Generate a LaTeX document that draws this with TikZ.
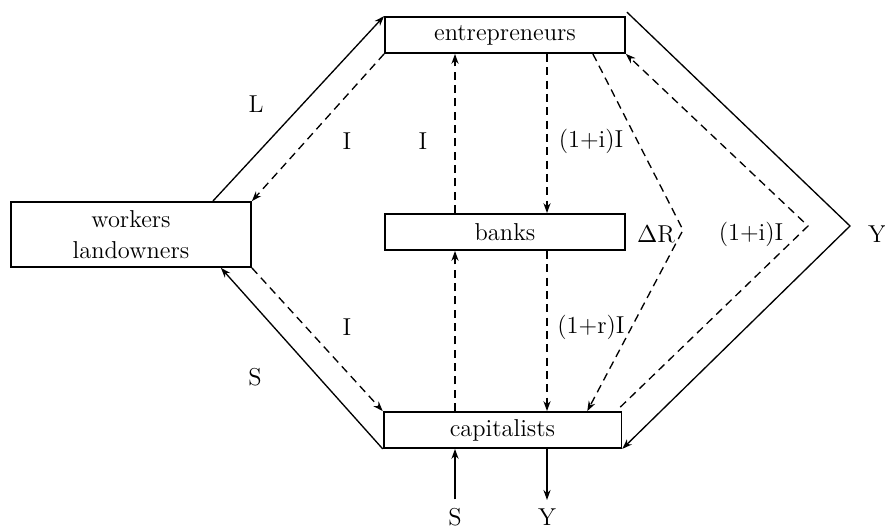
\documentclass[tikz,border=0pt]{standalone}
\usepackage{amsmath}
\usepackage{tikz}
\usetikzlibrary{arrows.meta,positioning,calc}
\newcommand{\flowfont}{\fontsize{11}{14}\selectfont}
\tikzset{
  sector/.style={draw=black,line width=0.8pt,fill=white,
                 minimum width=108pt,minimum height=16.2pt,
                 inner sep=2pt,align=center,font=\flowfont},
  realarr/.style={-{Stealth[length=4.5pt,width=3.2pt]},line width=0.6pt},
  moneyarr/.style={-{Stealth[length=4.5pt,width=3.2pt]},line width=0.6pt,
                   dash pattern=on 3.6pt off 2.4pt},
  flowlabel/.style={font=\flowfont,inner sep=1pt}
}
\begin{document}
\begin{tikzpicture}[x=0.45pt,y=-0.45pt]
  \useasboundingbox (0,0) rectangle (885,527);

  % sectors
  \node[sector] (ent) at (505,35) {entrepreneurs};
  \node[sector,minimum height=29.25pt] (work) at (131,234.5) {workers\\landowners};
  \node[sector] (banks) at (505,232) {banks};
  \node[sector,minimum width=107pt] (cap) at (502.5,430) {capitalists};

  % columns and turning points
  \coordinate (colA) at (455,0);
  \coordinate (colB) at (547,0);
  \coordinate (dRtip) at (683,230);
  \coordinate (iitip) at (808,226);
  \coordinate (ytip) at (850,226);

  % left side
  \draw[realarr] ($(work.north east)+(-39,0)$) -- (ent.north west);
  \draw[moneyarr] (ent.south west) -- (work.north east);
  \draw[realarr] (cap.south west) -- ($(work.south east)+(-31,0)$);
  \draw[moneyarr] (work.south east) -- (cap.north west);

  % middle
  \draw[moneyarr] (banks.north -| colA) -- (ent.south -| colA);
  \draw[moneyarr] (ent.south -| colB) -- (banks.north -| colB);
  \draw[moneyarr] (cap.north -| colA) -- (banks.south -| colA);
  \draw[moneyarr] (banks.south -| colB) -- (cap.north -| colB);

  % right side
  \draw[moneyarr] ($(ent.south east)+(-33,0)$) -- (dRtip) -- ($(cap.north east)+(-35,0)$);
  \draw[moneyarr] ($(cap.north east)+(-2,-4)$) -- (iitip) -- (ent.south east);
  \draw[realarr] ($(ent.north east)+(1,-4)$) -- (ytip) -- (cap.south east);

  % bottom
  \node[flowlabel] (sIn) at (455,517) {S};
  \node[flowlabel] (yOut) at (547,517) {Y};
  \draw[realarr] ($(sIn.north)+(0,-6)$) -- (cap.south -| sIn);
  \draw[realarr] (cap.south -| yOut) -- ($(yOut.north)+(0,-6)$);

  % labels
  \node[flowlabel] (lL) at (256,104) {L};
  \node[flowlabel] (lI1) at (347,141) {I};
  \node[flowlabel] (lI2) at (423,141) {I};
  \node[flowlabel] (lii1) at (591,141) {(1+i)I};
  \node[flowlabel] (ldR) at (656,234) {$\Delta$R};
  \node[flowlabel] (lii2) at (751,234) {(1+i)I};
  \node[flowlabel] (lY) at (877,234) {Y};
  \node[flowlabel] (lI3) at (347,327) {I};
  \node[flowlabel] (lir) at (591,327) {(1+r)I};
  \node[flowlabel] (lS) at (255,377) {S};
\end{tikzpicture}
\end{document}
